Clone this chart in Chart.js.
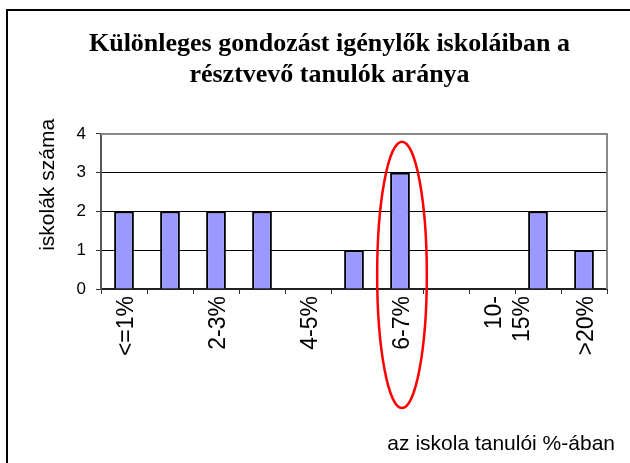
<!DOCTYPE html>
<html>
<head>
<meta charset="utf-8">
<script src="https://cdn.jsdelivr.net/npm/chart.js@4.4.0/dist/chart.umd.min.js"></script>
<style>
  body { margin: 0; background: #fff; overflow: hidden; }
  #wrap { position: relative; width: 630px; height: 463px; }
  #frame {
    position: absolute; left: 6px; top: 9px; width: 700px; height: 500px;
    border-left: 2px solid #000; border-top: 2px solid #000; pointer-events: none;
  }
  canvas { position: absolute; left: 0; top: 0; }
</style>
</head>
<body>
<div id="wrap">
  <canvas id="chart" width="630" height="463"></canvas>
  <div id="frame"></div>
</div>
<script>
// kategóriák (minden második címke látszik, mint az eredetin)
const categories = ["<=1%", "1-2%", "2-3%", "3-4%", "4-5%", "5-6%", "6-7%", "7-10%", ["10-", "15%"], "15-20%", ">20%"];
const schoolCounts = [2, 2, 2, 2, 0, 1, 3, 0, 0, 2, 1];
const yTicks = [0, 1, 2, 3, 4];

const titleLines = ["Különleges gondozást igénylők iskoláiban a", "résztvevő tanulók aránya"];
const yTitle = "iskolák száma";
const xTitle = "az iskola tanulói %-ában";

// piros kiemelés a 6-7% oszlop körül
const highlightIndex = 6;
const highlightTop = 3.8;
const highlightBottom = -3.07;

const sans = "'Liberation Sans', Arial, sans-serif";

const extras = {
    id: "extras",
    beforeDatasetsDraw(chart) {
        const { ctx, chartArea: a } = chart;
        ctx.save();
        ctx.strokeStyle = "#888";
        ctx.lineWidth = 2;
        ctx.beginPath();
        ctx.moveTo(a.left, a.top);
        ctx.lineTo(a.right, a.top);
        ctx.lineTo(a.right, a.bottom);
        ctx.stroke();
        ctx.restore();
    },
    afterDraw(chart) {
        const { ctx, chartArea: a, scales } = chart;
        ctx.save();
        ctx.fillStyle = "#000";
        ctx.font = "21px " + sans;

        // y tengely címe
        ctx.translate(a.left - 53, a.top + 51);
        ctx.rotate(-Math.PI / 2);
        ctx.textAlign = "center";
        ctx.textBaseline = "middle";
        ctx.fillText(yTitle, 0, 0);
        ctx.setTransform(1, 0, 0, 1, 0, 0);

        // x tengely címe
        ctx.textAlign = "right";
        ctx.textBaseline = "alphabetic";
        ctx.fillText(xTitle, a.right + 8, 450);

        // ellipszis
        const cx = scales.x.getPixelForValue(highlightIndex) + 2;
        const top = scales.y.getPixelForValue(highlightTop);
        const bottom = scales.y.getPixelForValue(highlightBottom);
        const rx = (scales.x.getPixelForValue(1) - scales.x.getPixelForValue(0)) * 0.54;
        ctx.strokeStyle = "#ff0000";
        ctx.lineWidth = 2.5;
        ctx.beginPath();
        ctx.ellipse(cx, (top + bottom) / 2, rx, (bottom - top) / 2, 0, 0, Math.PI * 2);
        ctx.stroke();
        ctx.restore();
    }
};

new Chart(document.getElementById("chart"), {
    type: "bar",
    data: {
        labels: categories,
        datasets: [{
            data: schoolCounts,
            backgroundColor: "#9999ff",
            borderColor: "#000",
            borderWidth: 2,
            barPercentage: 0.43,
            categoryPercentage: 1
        }]
    },
    options: {
        responsive: false,
        animation: false,
        layout: { padding: { left: 52, right: 23, top: 0, bottom: 0 } },
        plugins: {
            legend: { display: false },
            tooltip: { enabled: false },
            title: {
                display: true,
                text: titleLines,
                color: "#000",
                font: { family: "'Liberation Serif', 'Times New Roman', serif", size: 26, weight: "bold", lineHeight: 1.19 },
                padding: { top: 29, bottom: 43 }
            }
        },
        scales: {
            x: {
                afterFit(scale) { scale.height = 174; },
                grid: { drawOnChartArea: false, color: "#333", tickLength: 5, offset: true },
                border: { color: "#222", width: 2 },
                ticks: {
                    autoSkip: false,
                    minRotation: 90,
                    maxRotation: 90,
                    padding: 2,
                    labelOffset: 3,
                    color: "#000",
                    font: { family: sans, size: 23 },
                    callback(value, index) { return index % 2 ? "" : categories[index]; }
                }
            },
            y: {
                min: 0,
                max: 4,
                afterFit(scale) { scale.width = 49; },
                afterBuildTicks(scale) { scale.ticks = yTicks.map(v => ({ value: v })); },
                grid: {
                    color: ctx => (ctx.tick && ctx.tick.value === 4 ? "rgba(0,0,0,0)" : "#000"),
                    tickColor: "#333",
                    tickLength: 5,
                    lineWidth: 1
                },
                border: { color: "#555", width: 2 },
                ticks: {
                    padding: 10,
                    color: "#000",
                    font: { family: sans, size: 17 }
                }
            }
        }
    },
    plugins: [extras]
});
</script>
</body>
</html>
